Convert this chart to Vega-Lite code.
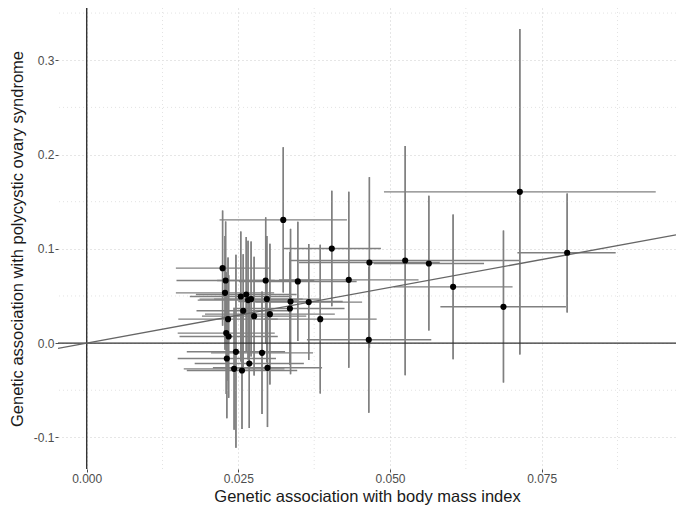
{
  "$schema": "https://vega.github.io/schema/vega-lite/v6.json",
  "width": 618,
  "height": 461,
  "autosize": "none",
  "padding": {"left": 58, "top": 8, "right": 0, "bottom": 43},
  "background": "white",
  "config": {
    "view": {"stroke": null},
    "font": "Liberation Sans",
    "axis": {
      "domain": false,
      "labelFont": "Liberation Sans",
      "labelFontSize": 12,
      "labelColor": "#4d4d4d",
      "titleFont": "Liberation Sans",
      "titleFontSize": 16.5,
      "titleFontWeight": "normal",
      "titleColor": "#1a1a1a",
      "tickSize": 3,
      "tickColor": "#4d4d4d",
      "tickWidth": 1,
      "gridColor": "#cccccc",
      "gridDash": [1, 3],
      "gridWidth": 1
    }
  },
  "datasets": {
    "snps": [
      {"bx": 0.0224, "by": 0.0795, "xlo": 0.0147, "xhi": 0.0302, "ylo": 0.0185, "yhi": 0.1406},
      {"bx": 0.0229, "by": 0.0664, "xlo": 0.0148, "xhi": 0.0310, "ylo": 0.0038, "yhi": 0.1290},
      {"bx": 0.0228, "by": 0.0533, "xlo": 0.0147, "xhi": 0.0309, "ylo": -0.0070, "yhi": 0.1136},
      {"bx": 0.0233, "by": 0.0254, "xlo": 0.0151, "xhi": 0.0315, "ylo": -0.0400, "yhi": 0.0908},
      {"bx": 0.0230, "by": 0.0106, "xlo": 0.0150, "xhi": 0.0310, "ylo": -0.0540, "yhi": 0.0752},
      {"bx": 0.0234, "by": 0.0070, "xlo": 0.0153, "xhi": 0.0315, "ylo": -0.0580, "yhi": 0.0720},
      {"bx": 0.0231, "by": -0.0163, "xlo": 0.0150, "xhi": 0.0312, "ylo": -0.0796, "yhi": 0.0470},
      {"bx": 0.0243, "by": -0.0273, "xlo": 0.0160, "xhi": 0.0326, "ylo": -0.0920, "yhi": 0.0374},
      {"bx": 0.0246, "by": -0.0092, "xlo": 0.0165, "xhi": 0.0327, "ylo": -0.1110, "yhi": 0.0936},
      {"bx": 0.0254, "by": 0.0494, "xlo": 0.0170, "xhi": 0.0338, "ylo": -0.0196, "yhi": 0.1184},
      {"bx": 0.0256, "by": -0.0290, "xlo": 0.0165, "xhi": 0.0347, "ylo": -0.0912, "yhi": 0.0332},
      {"bx": 0.0258, "by": 0.0343, "xlo": 0.0181, "xhi": 0.0335, "ylo": -0.0257, "yhi": 0.0943},
      {"bx": 0.0263, "by": 0.0516, "xlo": 0.0180, "xhi": 0.0346, "ylo": -0.0094, "yhi": 0.1126},
      {"bx": 0.0266, "by": 0.0456, "xlo": 0.0183, "xhi": 0.0349, "ylo": -0.0174, "yhi": 0.1086},
      {"bx": 0.0271, "by": 0.0467, "xlo": 0.0186, "xhi": 0.0356, "ylo": -0.0143, "yhi": 0.1077},
      {"bx": 0.0268, "by": -0.0216, "xlo": 0.0178, "xhi": 0.0358, "ylo": -0.0900, "yhi": 0.0468},
      {"bx": 0.0276, "by": 0.0286, "xlo": 0.0190, "xhi": 0.0362, "ylo": -0.0344, "yhi": 0.0916},
      {"bx": 0.0289, "by": -0.0103, "xlo": 0.0205, "xhi": 0.0373, "ylo": -0.0753, "yhi": 0.0547},
      {"bx": 0.0295, "by": 0.0664, "xlo": 0.0215, "xhi": 0.0375, "ylo": -0.0006, "yhi": 0.1334},
      {"bx": 0.0297, "by": 0.0467, "xlo": 0.0210, "xhi": 0.0384, "ylo": -0.0203, "yhi": 0.1137},
      {"bx": 0.0298, "by": -0.0262, "xlo": 0.0208, "xhi": 0.0388, "ylo": -0.0890, "yhi": 0.0366},
      {"bx": 0.0302, "by": 0.0307, "xlo": 0.0195, "xhi": 0.0409, "ylo": -0.0439, "yhi": 0.1053},
      {"bx": 0.0324, "by": 0.1307, "xlo": 0.0219, "xhi": 0.0429, "ylo": 0.0537, "yhi": 0.2077},
      {"bx": 0.0335, "by": 0.0367, "xlo": 0.0245, "xhi": 0.0425, "ylo": -0.0233, "yhi": 0.0967},
      {"bx": 0.0336, "by": 0.0441, "xlo": 0.0250, "xhi": 0.0422, "ylo": -0.0330, "yhi": 0.1212},
      {"bx": 0.0348, "by": 0.0654, "xlo": 0.0251, "xhi": 0.0445, "ylo": 0.0022, "yhi": 0.1286},
      {"bx": 0.0366, "by": 0.0435, "xlo": 0.0278, "xhi": 0.0454, "ylo": -0.0180, "yhi": 0.1050},
      {"bx": 0.0385, "by": 0.0254, "xlo": 0.0292, "xhi": 0.0478, "ylo": -0.0534, "yhi": 0.1042},
      {"bx": 0.0404, "by": 0.1003, "xlo": 0.0324, "xhi": 0.0485, "ylo": 0.0391, "yhi": 0.1615},
      {"bx": 0.0432, "by": 0.0671, "xlo": 0.0317, "xhi": 0.0547, "ylo": -0.0262, "yhi": 0.1604},
      {"bx": 0.0465, "by": 0.0035, "xlo": 0.0363, "xhi": 0.0568, "ylo": -0.0739, "yhi": 0.0810},
      {"bx": 0.0466, "by": 0.0855, "xlo": 0.0350, "xhi": 0.0582, "ylo": -0.0050, "yhi": 0.1760},
      {"bx": 0.0525, "by": 0.0876, "xlo": 0.0336, "xhi": 0.0713, "ylo": -0.0340, "yhi": 0.2090},
      {"bx": 0.0564, "by": 0.0844, "xlo": 0.0473, "xhi": 0.0655, "ylo": 0.0134, "yhi": 0.1562},
      {"bx": 0.0604, "by": 0.0597, "xlo": 0.0506, "xhi": 0.0702, "ylo": -0.0170, "yhi": 0.1363},
      {"bx": 0.0687, "by": 0.0385, "xlo": 0.0583, "xhi": 0.0790, "ylo": -0.0418, "yhi": 0.1194},
      {"bx": 0.0714, "by": 0.1604, "xlo": 0.0490, "xhi": 0.0938, "ylo": -0.0121, "yhi": 0.3330},
      {"bx": 0.0792, "by": 0.0958, "xlo": 0.0710, "xhi": 0.0872, "ylo": 0.0325, "yhi": 0.1587}
    ],
    "minorX": [{"v": 0.0125}, {"v": 0.0375}, {"v": 0.0625}, {"v": 0.0875}],
    "minorY": [{"v": -0.05}, {"v": 0.05}, {"v": 0.15}, {"v": 0.25}, {"v": 0.35}],
    "fit": [{"fx": -0.00473, "fy": -0.00559, "fx2": 0.09714, "fy2": 0.1148}],
    "zero": [{"v": 0}]
  },
  "layer": [
    {
      "data": {"name": "snps"},
      "mark": {"type": "rule", "color": "#808080", "strokeWidth": 1.4, "clip": true},
      "encoding": {
        "x": {
          "field": "bx", "type": "quantitative",
          "scale": {"domain": [-0.00473, 0.09714], "nice": false, "zero": false},
          "axis": {
            "title": "Genetic association with body mass index",
            "values": [0, 0.025, 0.05, 0.075],
            "format": ".3f",
            "labelPadding": 1,
            "titlePadding": 4
          }
        },
        "y": {
          "field": "ylo", "type": "quantitative",
          "scale": {"domain": [-0.1335, 0.3554], "nice": false, "zero": false},
          "axis": {
            "title": "Genetic association with polycystic ovary syndrome",
            "values": [-0.1, 0, 0.1, 0.2, 0.3],
            "labelExpr": "replace(format(datum.value, '.1f'), '\u2212', '-')",
            "labelPadding": 1,
            "titlePadding": 8
          }
        },
        "y2": {"field": "yhi"}
      }
    },
    {
      "data": {"name": "minorX"},
      "mark": {"type": "rule", "color": "#e3e3e3", "strokeDash": [1, 3], "strokeWidth": 1},
      "encoding": {
        "x": {"field": "v", "type": "quantitative"}
      }
    },
    {
      "data": {"name": "minorY"},
      "mark": {"type": "rule", "color": "#e3e3e3", "strokeDash": [1, 3], "strokeWidth": 1},
      "encoding": {
        "y": {"field": "v", "type": "quantitative"}
      }
    },
    {
      "data": {"name": "snps"},
      "mark": {"type": "rule", "color": "#808080", "strokeWidth": 1.4, "clip": true},
      "encoding": {
        "y": {"field": "by", "type": "quantitative"},
        "x": {"field": "xlo", "type": "quantitative"},
        "x2": {"field": "xhi"}
      }
    },
    {
      "data": {"name": "snps"},
      "mark": {"type": "rule", "color": "#808080", "strokeWidth": 1.4, "clip": true},
      "encoding": {
        "x": {"field": "bx", "type": "quantitative"},
        "y": {"field": "ylo", "type": "quantitative"},
        "y2": {"field": "yhi"}
      }
    },
    {
      "data": {"name": "zero"},
      "mark": {"type": "rule", "color": "#333333", "strokeWidth": 1.4},
      "encoding": {
        "x": {"field": "v", "type": "quantitative"}
      }
    },
    {
      "data": {"name": "zero"},
      "mark": {"type": "rule", "color": "#333333", "strokeWidth": 1.4},
      "encoding": {
        "y": {"field": "v", "type": "quantitative"}
      }
    },
    {
      "data": {"name": "fit"},
      "mark": {"type": "rule", "color": "#666666", "strokeWidth": 1.4, "clip": true},
      "encoding": {
        "x": {"field": "fx", "type": "quantitative"},
        "y": {"field": "fy", "type": "quantitative"},
        "x2": {"field": "fx2"},
        "y2": {"field": "fy2"}
      }
    },
    {
      "data": {"name": "snps"},
      "mark": {"type": "circle", "color": "#000000", "opacity": 1, "size": 38},
      "encoding": {
        "x": {"field": "bx", "type": "quantitative"},
        "y": {"field": "by", "type": "quantitative"}
      }
    }
  ]
}
